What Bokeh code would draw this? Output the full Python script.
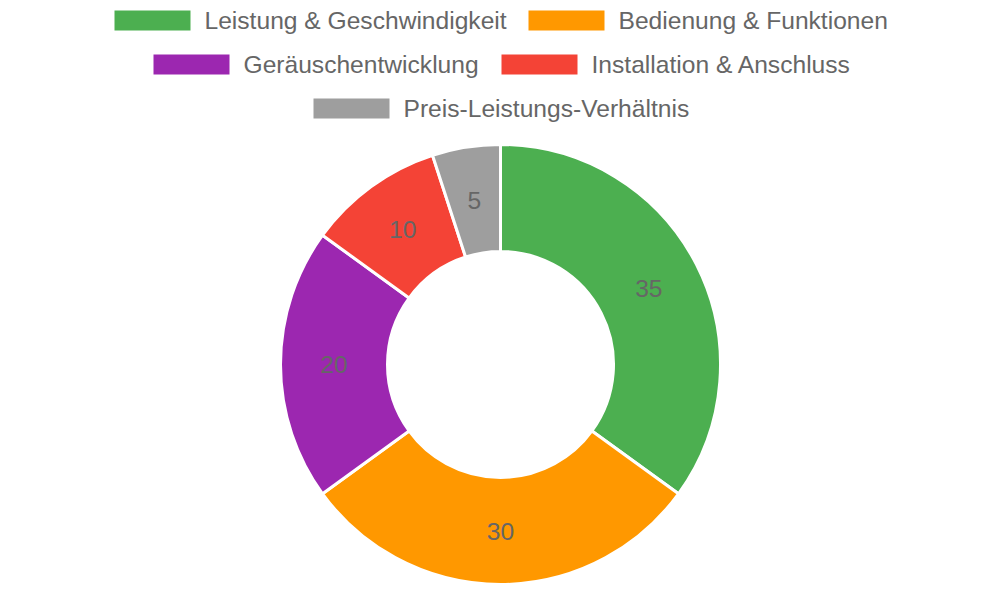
import math
from bokeh.plotting import figure
from bokeh.models import Range1d, ColumnDataSource
from bokeh.core.properties import value
from bokeh.embed import file_html
from bokeh.resources import INLINE

# ---- data ----
categories = ["Leistung & Geschwindigkeit", "Bedienung & Funktionen",
              "Geräuschentwicklung", "Installation & Anschluss",
              "Preis-Leistungs-Verhältnis"]
values = [35, 30, 20, 10, 5]
colors = ["#4CAF50", "#FF9800", "#9C27B0", "#F44336", "#9E9E9E"]

# ---- layout constants (reference px; shifted up so everything fits) ----
W, H = 984, 584
SHIFT = 12
CX, CY = 500, 376
R_OUT, R_IN = 220, 113
FONT = "Liberation Sans"
TEXT_COLOR = "#666666"
FS = "24.6px"

legend_rows = [[0, 1], [2, 3], [4]]
legend_row_y = [32, 76, 120]
legend_box_x = {0: 114, 1: 528, 2: 153, 3: 501, 4: 313}
BOX_W, BOX_H, GAP = 76, 20, 14


def Y(sy):
    return 600 - (sy - SHIFT)


p = figure(width=W, height=H, output_backend="svg", toolbar_location=None,
           x_range=Range1d(0, W), y_range=Range1d(600 - H, 600),
           min_border=0, tools="")
p.axis.visible = False
p.grid.visible = False
p.outline_line_color = None
p.background_fill_color = "white"
p.border_fill_color = "white"

total = sum(values)
starts, ends, lx, ly = [], [], [], []
cum = 0
for v in values:
    a0 = math.pi / 2 - 2 * math.pi * cum / total
    a1 = math.pi / 2 - 2 * math.pi * (cum + v) / total
    starts.append(a0)
    ends.append(a1)
    mid = (cum + v / 2) / total * 2 * math.pi
    rm = (R_IN + R_OUT) / 2
    lx.append(CX + rm * math.sin(mid))
    ly.append(Y(CY - rm * math.cos(mid)))
    cum += v

src = ColumnDataSource(dict(start=starts, end=ends, color=colors,
                            lx=lx, ly=ly, txt=[str(v) for v in values]))
p.annular_wedge(x=CX, y=Y(CY), inner_radius=R_IN, outer_radius=R_OUT,
                start_angle="start", end_angle="end", direction="clock",
                fill_color="color", line_color="white", line_width=3,
                source=src)
p.text(x="lx", y="ly", text="txt", source=src, text_align="center",
       text_baseline="middle", text_color=TEXT_COLOR,
       text_font=value(FONT), text_font_size=FS)

# legend
bx, by, tx, ty, tt, bc = [], [], [], [], [], []
for row, sy in zip(legend_rows, legend_row_y):
    for i in row:
        x0 = legend_box_x[i]
        bx.append(x0 + BOX_W / 2)
        by.append(Y(sy))
        bc.append(colors[i])
        tx.append(x0 + BOX_W + GAP)
        ty.append(Y(sy))
        tt.append(categories[i])
p.rect(x=bx, y=by, width=BOX_W, height=BOX_H, fill_color=bc, line_color=None)
p.text(x=tx, y=ty, text=tt, text_align="left", text_baseline="middle",
       text_color=TEXT_COLOR, text_font=value(FONT), text_font_size=FS)

open("out.html", "w").write(file_html(p, INLINE))
